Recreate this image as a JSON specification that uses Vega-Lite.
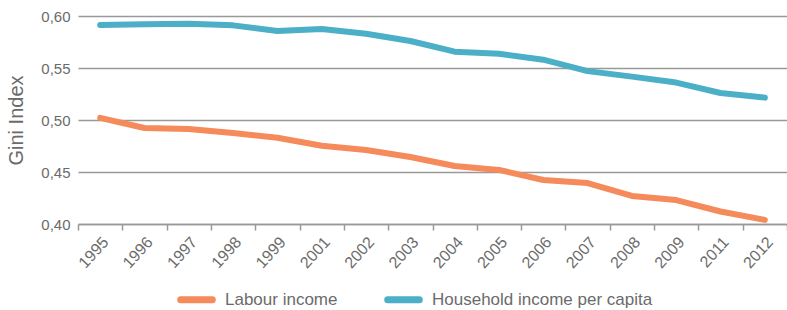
{
  "$schema": "https://vega.github.io/schema/vega-lite/v6.json",
  "width": 709,
  "height": 208,
  "autosize": {"type": "none"},
  "padding": {"left": 78, "top": 16, "right": 0, "bottom": 86},
  "background": "white",
  "config": {
    "view": {"stroke": null},
    "font": "Liberation Sans",
    "axis": {"labelColor": "#6b6b6b", "titleColor": "#6b6b6b", "labelFont": "Liberation Sans", "titleFont": "Liberation Sans"}
  },
  "data": {
    "values": [
      {"year": "1995", "series": "Labour income", "gini": 0.502},
      {"year": "1996", "series": "Labour income", "gini": 0.4923},
      {"year": "1997", "series": "Labour income", "gini": 0.4913},
      {"year": "1998", "series": "Labour income", "gini": 0.4875},
      {"year": "1999", "series": "Labour income", "gini": 0.483},
      {"year": "2001", "series": "Labour income", "gini": 0.4753},
      {"year": "2002", "series": "Labour income", "gini": 0.4712},
      {"year": "2003", "series": "Labour income", "gini": 0.4644},
      {"year": "2004", "series": "Labour income", "gini": 0.4558},
      {"year": "2005", "series": "Labour income", "gini": 0.452},
      {"year": "2006", "series": "Labour income", "gini": 0.4423},
      {"year": "2007", "series": "Labour income", "gini": 0.4394},
      {"year": "2008", "series": "Labour income", "gini": 0.427},
      {"year": "2009", "series": "Labour income", "gini": 0.423},
      {"year": "2011", "series": "Labour income", "gini": 0.412},
      {"year": "2012", "series": "Labour income", "gini": 0.404},
      {"year": "1995", "series": "Household income per capita", "gini": 0.5913},
      {"year": "1996", "series": "Household income per capita", "gini": 0.592},
      {"year": "1997", "series": "Household income per capita", "gini": 0.5925},
      {"year": "1998", "series": "Household income per capita", "gini": 0.591},
      {"year": "1999", "series": "Household income per capita", "gini": 0.5856},
      {"year": "2001", "series": "Household income per capita", "gini": 0.5875},
      {"year": "2002", "series": "Household income per capita", "gini": 0.583},
      {"year": "2003", "series": "Household income per capita", "gini": 0.576},
      {"year": "2004", "series": "Household income per capita", "gini": 0.5657},
      {"year": "2005", "series": "Household income per capita", "gini": 0.5637},
      {"year": "2006", "series": "Household income per capita", "gini": 0.558},
      {"year": "2007", "series": "Household income per capita", "gini": 0.547},
      {"year": "2008", "series": "Household income per capita", "gini": 0.5417},
      {"year": "2009", "series": "Household income per capita", "gini": 0.536},
      {"year": "2011", "series": "Household income per capita", "gini": 0.526},
      {"year": "2012", "series": "Household income per capita", "gini": 0.5215}
    ]
  },
  "mark": {"type": "line", "strokeWidth": 6, "strokeCap": "round", "strokeJoin": "round"},
  "encoding": {
    "x": {
      "field": "year",
      "type": "ordinal",
      "scale": {"type": "band", "paddingInner": 0, "paddingOuter": 0},
      "axis": {
        "title": null,
        "labelAngle": -48,
        "labelAlign": "right",
        "labelBaseline": "middle",
        "labelFontSize": 16,
        "labelPadding": 9,
        "labelOffset": 5,
        "labelOverlap": false,
        "domainColor": "#999999",
        "domainWidth": 1.5,
        "tickColor": "#999999",
        "tickWidth": 1.5,
        "tickSize": 6,
        "tickBand": "extent",
        "grid": false
      }
    },
    "y": {
      "field": "gini",
      "type": "quantitative",
      "scale": {"domain": [0.4, 0.6], "nice": false, "zero": false},
      "axis": {
        "title": "Gini Index",
        "titleFontSize": 20,
        "titleFontWeight": "normal",
        "titlePadding": 14,
        "values": [0.4, 0.45, 0.5, 0.55, 0.6],
        "labelExpr": "replace(format(datum.value, '.2f'), '.', ',')",
        "labelFontSize": 15,
        "labelPadding": 8,
        "labelOverlap": false,
        "labelFlush": false,
        "domain": false,
        "ticks": false,
        "grid": true,
        "gridColor": "#999999",
        "gridWidth": 1.5
      }
    },
    "color": {
      "field": "series",
      "type": "nominal",
      "sort": ["Labour income", "Household income per capita"],
      "scale": {"domain": ["Labour income", "Household income per capita"], "range": ["#f58a5a", "#4bafc8"]},
      "legend": {
        "title": null,
        "orient": "none",
        "legendX": 99,
        "legendY": 264,
        "direction": "horizontal",
        "symbolType": "stroke",
        "symbolSize": 1000,
        "symbolStrokeWidth": 7,
        "labelFontSize": 17,
        "labelLimit": 400,
        "labelColor": "#6b6b6b",
        "labelOffset": 9,
        "columnPadding": 35,
        "padding": 0,
        "encode": {"symbols": {"update": {"strokeCap": {"value": "round"}}}}
      }
    }
  }
}
